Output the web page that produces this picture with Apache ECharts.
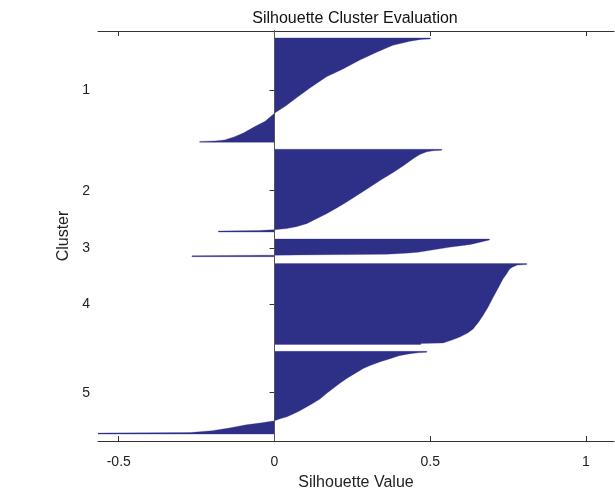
<!DOCTYPE html>
<html><head><meta charset="utf-8">
<script src="https://cdn.jsdelivr.net/npm/echarts@6/dist/echarts.min.js"></script>
<style>html,body{margin:0;padding:0;background:#fff}#c{width:615px;height:491px}</style>
</head><body><div id="c"></div>
<script>
// ---- data ----
const titleText = 'Silhouette Cluster Evaluation';
const clusterNames = ['1', '2', '3', '4', '5'];
const clusterSizes = [106, 84, 18, 82, 84];   // points per cluster (rows)
const clusterGap = 7;                          // empty rows between clusters
const xTicks = [-0.5, 0, 0.5, 1];
// [row within cluster, silhouette value] read from the sorted profile of each cluster
const cluster1 = [[0,0.50],[1,0.47],[3,0.435],[7,0.38],[14,0.328],[22,0.274],[31,0.22],[39,0.167],[50,0.115],[60,0.072],[68,0.038],[76,0.0],[84,-0.03],[90,-0.066],[96,-0.10],[100,-0.13],[103,-0.16],[104,-0.19],[105,-0.24]];
const cluster2 = [[0,0.537],[1,0.51],[2,0.489],[5,0.465],[9,0.445],[16,0.415],[23,0.381],[31,0.34],[40,0.296],[47,0.262],[53,0.232],[59,0.2],[65,0.167],[70,0.135],[75,0.103],[78,0.07],[80,0.039],[81,0.007],[82,-0.05],[83,-0.18]];
const cluster3 = [[0,0.69],[2,0.67],[5,0.63],[8,0.56],[11,0.5],[13,0.46],[14,0.42],[15,0.36],[16,-0.04],[17,-0.265]];
const cluster4 = [[0,0.81],[1,0.78],[3,0.765],[5,0.755],[10,0.745],[15,0.734],[25,0.717],[35,0.70],[44,0.685],[52,0.67],[59,0.655],[66,0.637],[70,0.62],[74,0.595],[77,0.57],[80,0.541],[81,0.47]];
const cluster5 = [[0,0.489],[1,0.46],[2,0.435],[4,0.40],[7,0.371],[10,0.34],[14,0.307],[17,0.285],[21,0.264],[27,0.232],[32,0.21],[37,0.189],[42,0.168],[48,0.146],[52,0.125],[56,0.103],[60,0.08],[63,0.06],[66,0.04],[68,0.018],[70,0.0],[72,-0.04],[74,-0.09],[77,-0.14],[80,-0.2],[82,-0.27],[83,-0.5666]];
const clusters = [cluster1, cluster2, cluster3, cluster4, cluster5];

// ---- layout of rows ----
const starts = [];
let r = clusterGap + 1;
clusterSizes.forEach(s => { starts.push(r); r += s + clusterGap; });
const totalRows = r - 1;
const centers = clusterSizes.map((s, i) => starts[i] + (s - 1) / 2);

const FONT = 'Liberation Sans, Arial, sans-serif';
const axisCol = '#333';

const chart = echarts.init(document.getElementById('c'), null, {renderer: 'canvas'});

function renderItem(params, api) {
  const i = api.value(0);
  const st = starts[i];
  const pts = clusters[i];
  const poly = [];
  poly.push(api.coord([0, st - 0.5]));
  pts.forEach((p, k) => {
    const row = st + p[0];
    if (k === 0 || k === pts.length - 1) {
      poly.push(api.coord([p[1], row - 0.5]));
      poly.push(api.coord([p[1], row + 0.5]));
    } else {
      poly.push(api.coord([p[1], row]));
    }
  });
  const last = pts[pts.length - 1];
  poly.push(api.coord([0, st + last[0] + 0.5]));
  return {
    type: 'polygon',
    shape: {points: poly},
    style: {fill: '#2e3088', stroke: '#2e3088', lineWidth: 0.3}
  };
}

const xBase = {
  type: 'value', min: -0.5666, max: 1.09,
  splitLine: {show: false},
  axisLine: {show: true, lineStyle: {color: axisCol, width: 1}},
  axisTick: {show: true, inside: true, length: 5, customValues: xTicks, lineStyle: {color: axisCol}}
};
const yBase = {
  type: 'value', inverse: true, min: 0.5, max: totalRows + 0.5,
  splitLine: {show: false},
  axisLine: {show: true, lineStyle: {color: axisCol, width: 1}},
  axisTick: {show: true, inside: true, length: 5, customValues: centers, lineStyle: {color: axisCol}}
};

chart.setOption({
  animation: false,
  backgroundColor: '#fff',
  title: {
    text: titleText, left: 355, top: 11, textAlign: 'center', padding: 0,
    textStyle: {fontFamily: FONT, fontSize: 16, fontWeight: 'normal', color: '#111'}
  },
  grid: {left: 98, right: 1, top: 31, bottom: 50, containLabel: false, outerBoundsMode: 'none'},
  xAxis: [
    Object.assign({}, xBase, {
      position: 'bottom',
      axisLabel: {show: true, customValues: xTicks, formatter: v => String(v), margin: 14,
        fontFamily: FONT, fontSize: 14, color: '#222'},
      name: 'Silhouette Value', nameLocation: 'middle', nameGap: 34,
      nameTextStyle: {fontFamily: FONT, fontSize: 16, color: '#222'}
    }),
    Object.assign({}, xBase, {position: 'top', axisLabel: {show: false}})
  ],
  yAxis: [
    Object.assign({}, yBase, {
      position: 'left',
      axisLabel: {show: true, customValues: centers, margin: 8,
        formatter: v => { const k = centers.findIndex(c => Math.abs(c - v) < 0.01); return k >= 0 ? clusterNames[k] : ''; },
        fontFamily: FONT, fontSize: 14, color: '#222'},
      name: 'Cluster', nameLocation: 'middle', nameGap: 18,
      nameTextStyle: {fontFamily: FONT, fontSize: 16, color: '#222'}
    }),
    Object.assign({}, yBase, {position: 'right', axisLabel: {show: false}})
  ],
  series: [{
    type: 'custom',
    xAxisIndex: 0, yAxisIndex: 0,
    clip: true,
    renderItem: renderItem,
    encode: {x: -1, y: -1},
    data: clusterNames.map((n, i) => [i]),
    markLine: {
      silent: true, symbol: ['none', 'none'], label: {show: false},
      lineStyle: {color: '#555', width: 1, type: 'solid'},
      data: [{xAxis: 0}]
    }
  }]
});
</script></body></html>
